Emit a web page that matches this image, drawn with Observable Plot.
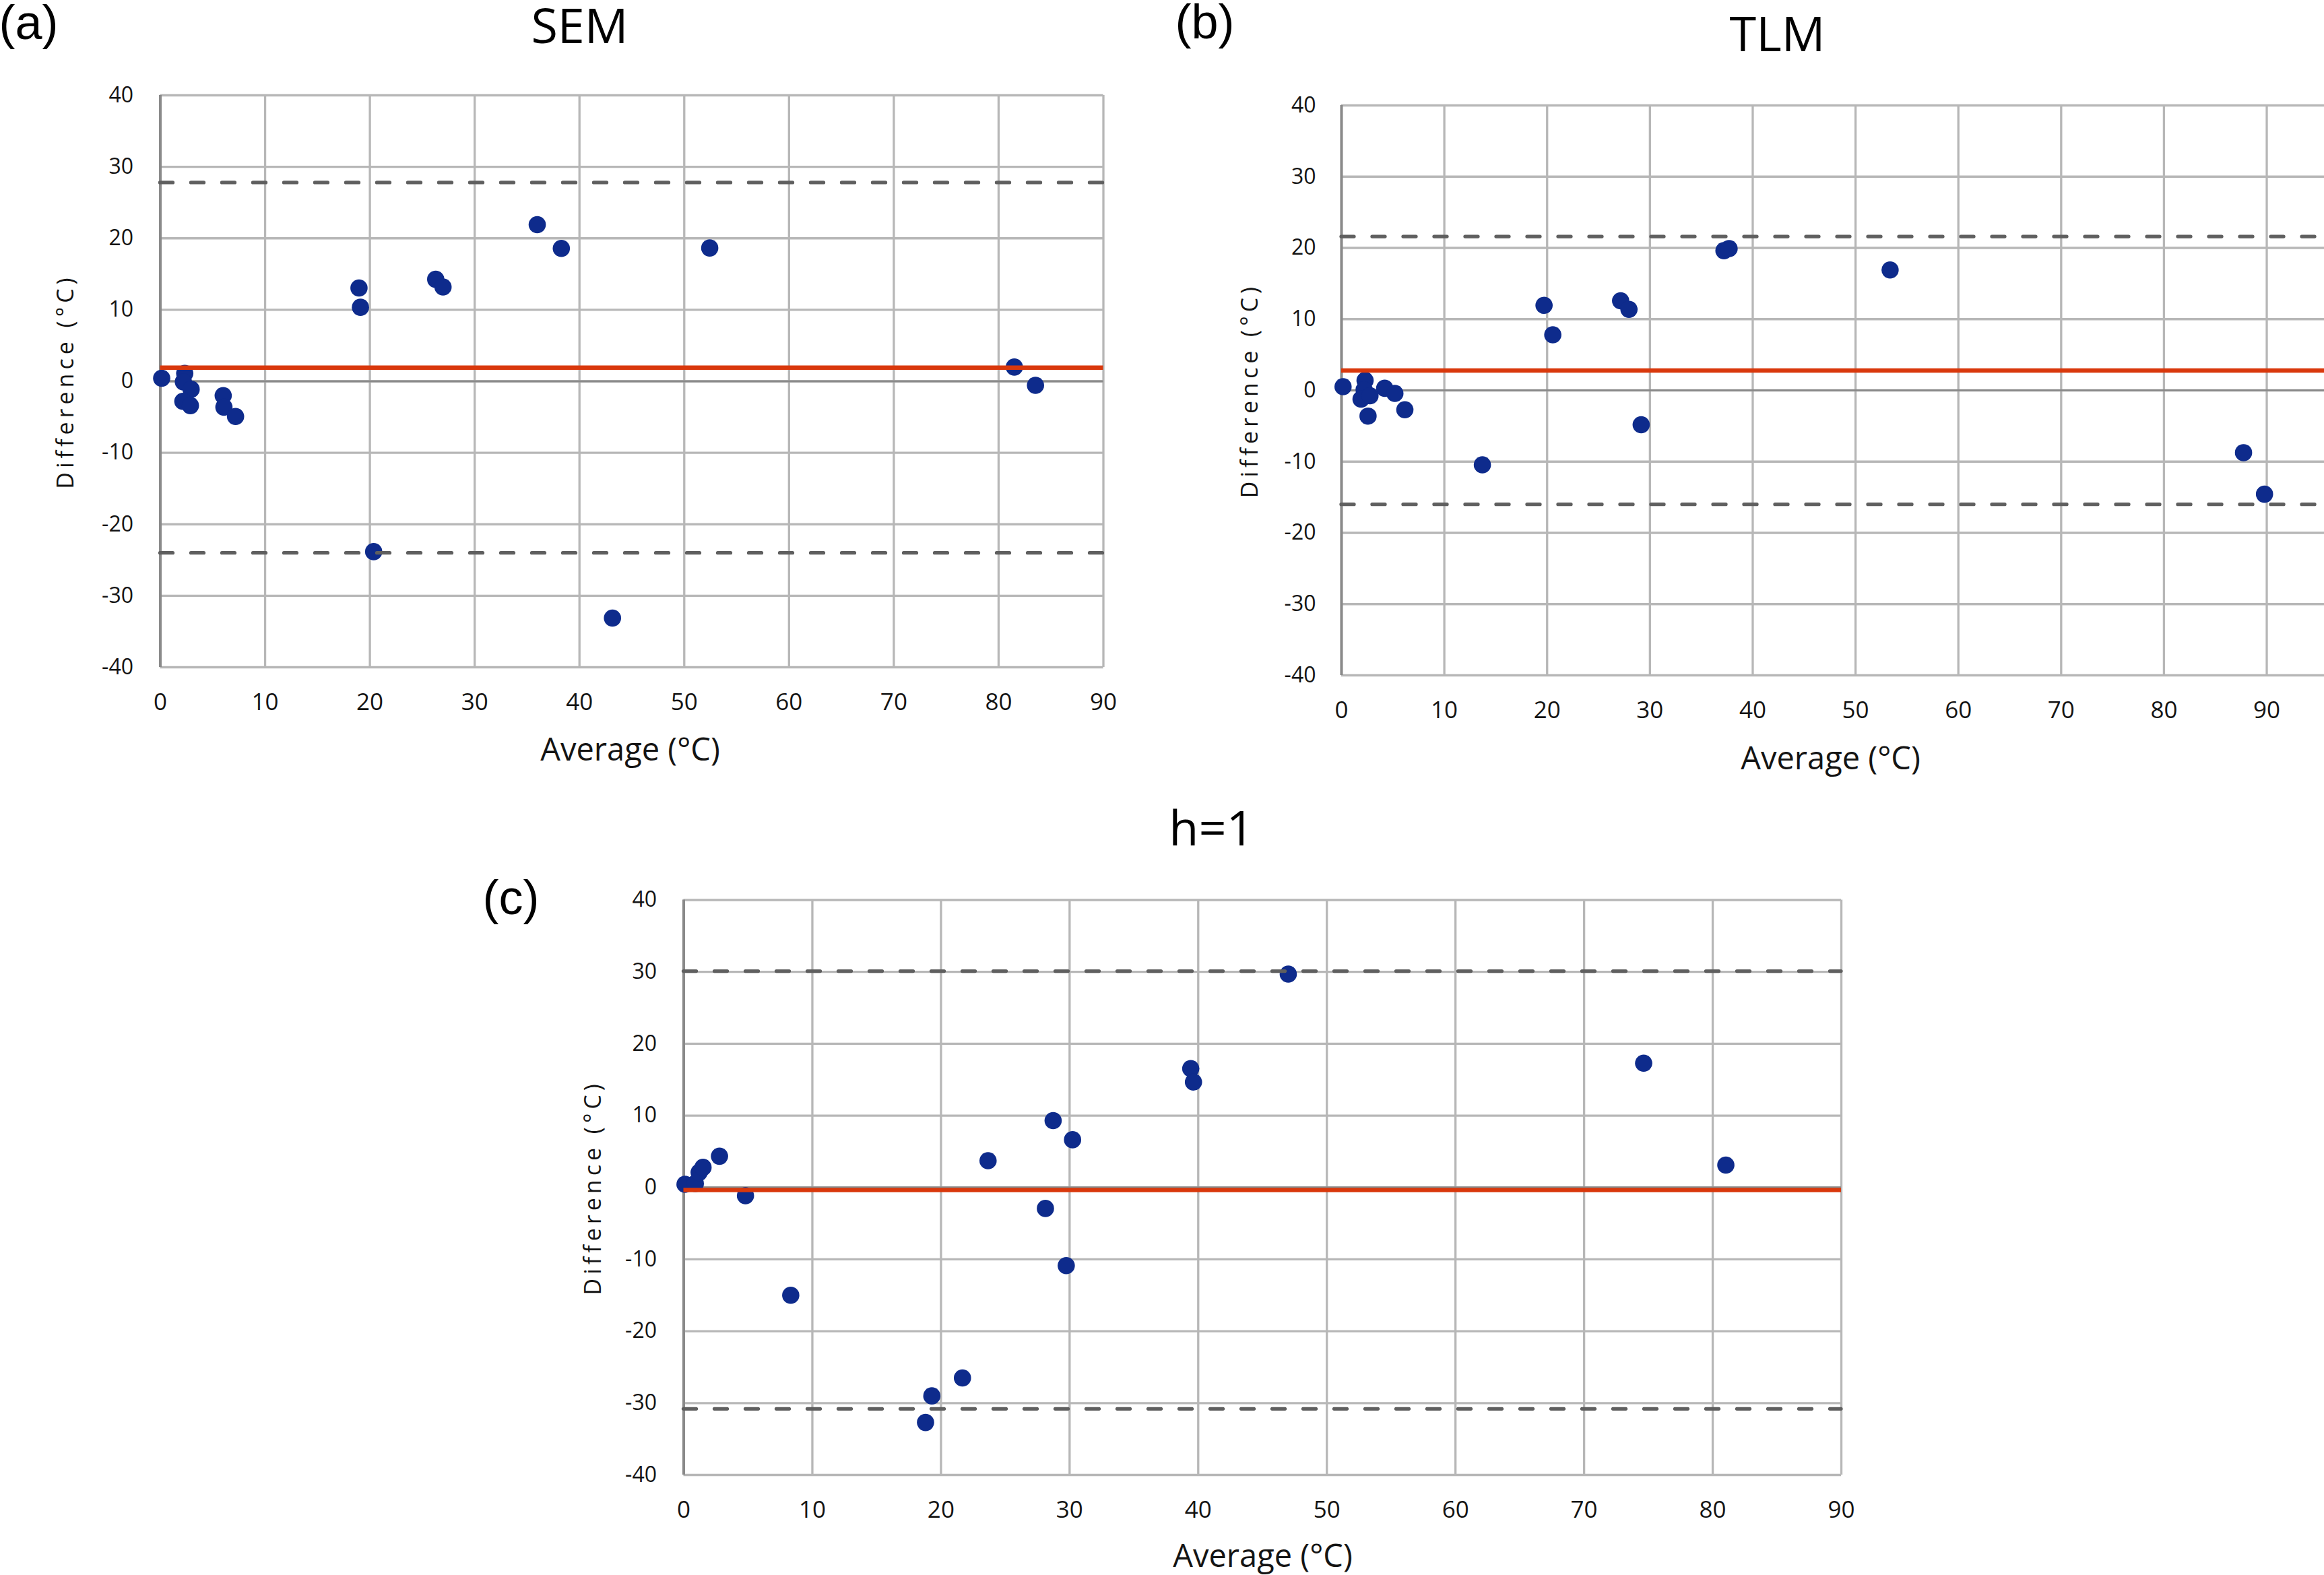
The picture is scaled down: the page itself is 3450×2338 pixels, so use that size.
<!DOCTYPE html>
<html>
<head>
<meta charset="utf-8">
<script src="https://cdn.jsdelivr.net/npm/d3@7"></script>
<script src="https://cdn.jsdelivr.net/npm/@observablehq/plot@0.6"></script>
<style>
  html, body { margin: 0; padding: 0; background: #fff; }
  #page { position: relative; width: 3450px; height: 2338px; overflow: hidden; background: #fff; }
  .panel { position: absolute; }
  .panel svg { overflow: visible; display: block; }
</style>
</head>
<body>
<div id="page"></div>
<script>
// Bland–Altman agreement: average of the two temperatures (x) against their difference (y), in °C.

// (a) SEM
const semAverage    = [0.13, 2.33, 2.20, 2.94, 2.15, 2.87, 6.00, 6.07, 7.18, 18.96, 19.10, 26.28, 26.98, 35.97, 38.27, 52.43, 20.36, 43.15, 81.50, 83.52];
const semDifference = [0.42, 1.10, -0.08, -1.12, -2.80, -3.40, -2.00, -3.62, -4.92, 13.05, 10.35, 14.26, 13.19, 21.91, 18.58, 18.65, -23.83, -33.12, 1.99, -0.57];
const semBias = 1.9, semUpperLoA = 27.8, semLowerLoA = -24.0;

// (b) TLM
const tlmAverage    = [0.15, 2.29, 2.20, 1.90, 2.77, 2.58, 4.20, 5.19, 6.16, 13.70, 19.70, 20.55, 27.15, 27.96, 29.15, 37.20, 37.70, 53.36, 87.74, 89.78];
const tlmDifference = [0.52, 1.40, 0.10, -1.23, -0.76, -3.61, 0.30, -0.42, -2.72, -10.45, 11.94, 7.80, 12.58, 11.37, -4.82, 19.61, 19.90, 16.91, -8.74, -14.57];
const tlmBias = 2.8, tlmUpperLoA = 21.6, tlmLowerLoA = -16.0;

// (c) h=1
const h1Average    = [0.10, 0.90, 1.20, 1.50, 2.78, 4.80, 8.32, 18.80, 19.29, 21.67, 23.66, 28.12, 28.72, 30.23, 29.74, 39.42, 39.63, 47.00, 74.63, 81.02];
const h1Difference = [0.45, 0.55, 2.10, 2.80, 4.35, -1.15, -15.00, -32.70, -29.00, -26.50, 3.72, -2.92, 9.30, 6.64, -10.87, 16.54, 14.67, 29.69, 17.30, 3.11];
const h1Bias = -0.35, h1UpperLoA = 30.1, h1LowerLoA = -30.8;

// Axis ticks and labels
const xTicks = [0, 10, 20, 30, 40, 50, 60, 70, 80, 90];
const yTicks = [-40, -30, -20, -10, 0, 10, 20, 30, 40];
const xTitle = "Average (°C)";
const yTitle = "Difference (°C)";

const POINT = "#0e2b8c", BIAS = "#d9380c", LIMIT = "#5f5f5f", GRID = "#b7b7b7", AXIS = "#8a8a8a", INK = "#141414";

function drawPanel(cfg) {
  const data = cfg.avg.map((a, i) => ({avg: a, diff: cfg.diff[i]}));
  const {box, frame} = cfg;
  const centered = {textAnchor: "middle", lineAnchor: "middle"};
  const svg = Plot.plot({
    width: box.w,
    height: box.h,
    marginLeft: frame.l - box.x,
    marginRight: box.x + box.w - frame.r,
    marginTop: frame.t - box.y,
    marginBottom: box.y + box.h - frame.b,
    x: {domain: [0, cfg.xMax]},
    y: {domain: [-40, 40]},
    style: {fontFamily: "'Open Sans', sans-serif", background: "transparent", color: INK},
    marks: [
      Plot.gridX(xTicks, {stroke: GRID, strokeOpacity: 1, strokeWidth: 3.3}),
      Plot.gridY(yTicks, {stroke: GRID, strokeOpacity: 1, strokeWidth: 3.3}),
      Plot.ruleY([0], {stroke: AXIS, strokeWidth: 3.2}),
      Plot.ruleX([0], {stroke: AXIS, strokeWidth: 4}),
      Plot.dot(data, {x: "avg", y: "diff", r: 12.8, fill: POINT, stroke: "none"}),
      Plot.ruleY([cfg.upper, cfg.lower], {stroke: LIMIT, strokeWidth: 5.3, strokeDasharray: "19,27", strokeLinecap: "round"}),
      Plot.ruleY([cfg.bias], {stroke: BIAS, strokeWidth: 6.5}),
      Plot.axisX(xTicks, {tickSize: 0, tickPadding: 39, fontSize: 35, label: null, tickFormat: d => String(d), fill: INK}),
      Plot.axisY(yTicks, {tickSize: 0, tickPadding: cfg.yPad, fontSize: 32, label: null, tickFormat: d => String(d), fill: INK}),
      Plot.text([xTitle], {frameAnchor: "bottom-left", dx: cfg.xt.dx, dy: cfg.xt.dy, fontSize: 47, fill: INK, ...centered}),
      Plot.text([yTitle], {frameAnchor: "left", dx: cfg.yt.dx, rotate: -90, fontSize: 34, fill: INK, ...centered}),
      Plot.text([cfg.title], {frameAnchor: "top-left", dx: cfg.tt.dx, dy: cfg.tt.dy, fontSize: 72, fill: "#000", ...centered}),
      Plot.text([cfg.tag], {frameAnchor: "top-left", dx: cfg.tg.dx, dy: cfg.tg.dy, fontSize: 72, fontFamily: "'Liberation Sans', Arial, sans-serif", fill: "#000", ...centered})
    ]
  });
  d3.select(svg).selectAll("text").filter(function() { return this.textContent === yTitle; })
    .style("letter-spacing", "6px");
  const holder = document.createElement("div");
  holder.className = "panel";
  holder.style.left = box.x + "px";
  holder.style.top = box.y + "px";
  holder.appendChild(svg);
  document.getElementById("page").appendChild(holder);
}

drawPanel({
  avg: semAverage, diff: semDifference, bias: semBias, upper: semUpperLoA, lower: semLowerLoA,
  title: "SEM", tag: "(a)", xMax: 90, yPad: 40,
  box: {x: 0, y: 0, w: 1700, h: 1160},
  frame: {l: 237.5, r: 1637.5, t: 141, b: 990},
  xt: {dx: 697.5, dy: 123}, yt: {dx: -139.5},
  tt: {dx: 622.5, dy: -101}, tg: {dx: -195.5, dy: -107}
});

drawPanel({
  avg: tlmAverage, diff: tlmDifference, bias: tlmBias, upper: tlmUpperLoA, lower: tlmLowerLoA,
  title: "TLM", tag: "(b)", xMax: 95.6, yPad: 38,
  box: {x: 1700, y: 0, w: 1750, h: 1180},
  frame: {l: 1991, r: 3450, t: 156, b: 1002},
  xt: {dx: 726, dy: 124}, yt: {dx: -135},
  tt: {dx: 647, dy: -104}, tg: {dx: -203, dy: -123}
});

drawPanel({
  avg: h1Average, diff: h1Difference, bias: h1Bias, upper: h1UpperLoA, lower: h1LowerLoA,
  title: "h=1", tag: "(c)", xMax: 90, yPad: 40,
  box: {x: 700, y: 1180, w: 2100, h: 1158},
  frame: {l: 1014.5, r: 2733, t: 1335.5, b: 2189},
  xt: {dx: 859.5, dy: 121}, yt: {dx: -133.5},
  tt: {dx: 783.5, dy: -104.5}, tg: {dx: -256.5, dy: -2}
});
</script>
</body>
</html>
